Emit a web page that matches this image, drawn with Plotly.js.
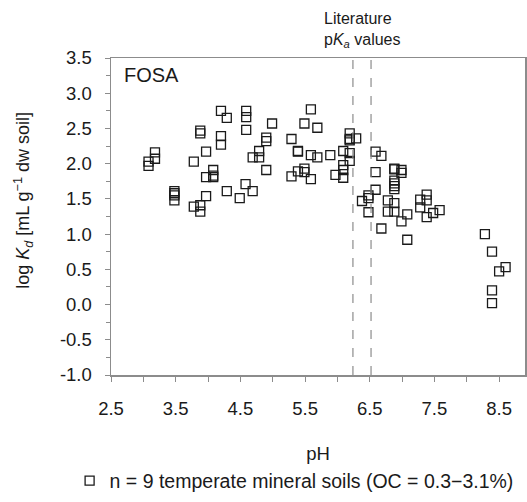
<!DOCTYPE html>
<html>
<head>
<meta charset="utf-8">
<script src="https://cdn.plot.ly/plotly-3.0.1.min.js"></script>
<style>html,body{margin:0;padding:0;background:#fff;}#chart{width:527px;height:502px;}</style>
</head>
<body>
<div id="chart"></div>
<script>
const phValues = [
  3.08, 3.08, 3.18, 3.18,
  3.48, 3.48, 3.48, 3.48,
  3.78, 3.78,
  3.88, 3.88, 3.88, 3.88,
  3.97, 3.97, 3.97,
  4.08, 4.08, 4.08,
  4.20, 4.20, 4.20,
  4.29, 4.29,
  4.49,
  4.59, 4.59, 4.59, 4.58,
  4.69, 4.69,
  4.79, 4.79,
  4.90, 4.90, 4.90,
  4.99,
  5.29, 5.29,
  5.39, 5.39, 5.39,
  5.49, 5.49, 5.49,
  5.59, 5.59, 5.59,
  5.69, 5.69,
  5.89, 5.97,
  6.09, 6.09, 6.09, 6.09,
  6.19, 6.19, 6.19, 6.19, 6.19,
  6.29, 6.38,
  6.48, 6.48, 6.48,
  6.59, 6.59, 6.59,
  6.68, 6.68,
  6.78, 6.78,
  6.88, 6.88, 6.88, 6.88, 6.88, 6.88, 6.88, 6.88,
  6.99, 6.99, 6.99,
  7.08, 7.08,
  7.28, 7.28,
  7.38, 7.38, 7.38,
  7.48, 7.58,
  8.28, 8.39, 8.39, 8.39, 8.50, 8.60
];
const logKdValues = [
  2.03, 1.97, 2.16, 2.07,
  1.61, 1.58, 1.55, 1.48,
  2.03, 1.39,
  2.47, 2.43, 1.41, 1.32,
  2.17, 1.81, 1.54,
  1.91, 1.83, 1.81,
  2.75, 2.39, 2.27,
  2.65, 1.61,
  1.51,
  2.75, 2.66, 2.48, 1.71,
  2.09, 1.61,
  2.18, 2.09,
  2.37, 2.32, 1.91,
  2.57,
  2.35, 1.82,
  2.18, 2.17, 1.89,
  2.57, 1.93, 1.88,
  2.77, 2.12, 1.78,
  2.51, 2.09,
  2.12, 1.84,
  2.18, 1.98, 1.91, 1.80,
  2.43, 2.35, 2.33, 2.15, 2.04,
  2.36, 1.47,
  1.55, 1.51, 1.31,
  2.17, 1.88, 1.63,
  2.11, 1.08,
  1.48, 1.32,
  1.93, 1.92, 1.76, 1.72, 1.68, 1.64, 1.44, 1.32,
  1.91, 1.87, 1.18,
  1.28, 0.92,
  1.49, 1.38,
  1.56, 1.48, 1.24,
  1.30, 1.34,
  1.00, 0.75, 0.20, 0.02, 0.47, 0.53
];
const pKaValues = [6.24, 6.52];
const seriesName = "n = 9 temperate mineral soils (OC = 0.3\u22123.1%)";
const xTickVals = [2.5, 3.5, 4.5, 5.5, 6.5, 7.5, 8.5];
const xTickText = ["2.5", "3.5", "4.5", "5.5", "6.5", "7.5", "8.5"];
const yTickVals = [-1, -0.5, 0, 0.5, 1, 1.5, 2, 2.5, 3, 3.5];
const yTickText = ["-1.0", "-0.5", "0.0", "0.5", "1.0", "1.5", "2.0", "2.5", "3.0", "3.5"];

const font = "Liberation Sans, Arial, sans-serif";
const grey = "#8c8c8c";
const ink = "#1a1a1a";

const trace = {
  x: phValues,
  y: logKdValues,
  type: "scatter",
  mode: "markers",
  name: seriesName,
  marker: {symbol: "square-open", size: 9, color: ink, line: {width: 1.3, color: ink}},
  hoverinfo: "x+y"
};

const layout = {
  width: 527, height: 502,
  margin: {l: 111, r: 2, t: 58, b: 118},
  paper_bgcolor: "#fff", plot_bgcolor: "#fff",
  font: {family: font, size: 18, color: ink},
  showlegend: true,
  legend: {orientation: "h", x: -0.1, xanchor: "left", y: -0.334, yanchor: "middle",
           font: {family: font, size: 19.5, color: ink}, itemwidth: 30},
  xaxis: {
    range: [2.5, 8.9], tickvals: xTickVals, ticktext: xTickText,
    ticks: "outside", ticklen: 5, tickcolor: grey, tickwidth: 1, ticklabelstandoff: 11,
    minor: {dtick: 0.5, tick0: 2.5, ticks: "outside", ticklen: 5, tickcolor: grey, showgrid: false},
    showline: true, linecolor: grey, linewidth: 1.5, mirror: true,
    showgrid: false, zeroline: false,
    tickfont: {family: font, size: 18.5, color: ink},
    title: {text: "pH", font: {family: font, size: 18.5, color: ink}, standoff: 29}
  },
  yaxis: {
    range: [-1, 3.5], tickvals: yTickVals, ticktext: yTickText,
    ticks: "outside", ticklen: 5, tickcolor: grey, tickwidth: 1, ticklabelstandoff: 9,
    minor: {dtick: 0.25, tick0: -1, ticks: "outside", ticklen: 4, tickcolor: grey, showgrid: false},
    showline: true, linecolor: grey, linewidth: 1.5, mirror: true,
    showgrid: false, zeroline: false,
    tickfont: {family: font, size: 18.5, color: ink}
  },
  shapes: pKaValues.map(v => ({
    type: "line", xref: "x", yref: "paper", x0: v, x1: v, y0: 0, y1: 1,
    line: {color: grey, width: 1.2, dash: "dash"}
  })),
  annotations: [
    {text: "FOSA", xref: "paper", yref: "paper", x: 0.027, y: 0.946, xanchor: "left", yanchor: "middle",
     showarrow: false, font: {family: font, size: 20, color: ink}},
    {text: "Literature<br>p<i>K<sub>a</sub></i> values", xref: "x", yref: "paper", x: 5.76, y: 1.089,
     xanchor: "left", yanchor: "middle", align: "left", showarrow: false,
     font: {family: font, size: 16, color: ink}},
    {text: "log <i>K<sub>d</sub></i> [mL g<sup>\u22121</sup> dw soil]", xref: "paper", yref: "paper",
     x: -0.213, y: 0.552, xanchor: "center", yanchor: "middle", textangle: -90, showarrow: false,
     font: {family: font, size: 18, color: ink}}
  ]
};

Plotly.newPlot("chart", [trace], layout, {displayModeBar: false, staticPlot: true});
</script>
</body>
</html>
